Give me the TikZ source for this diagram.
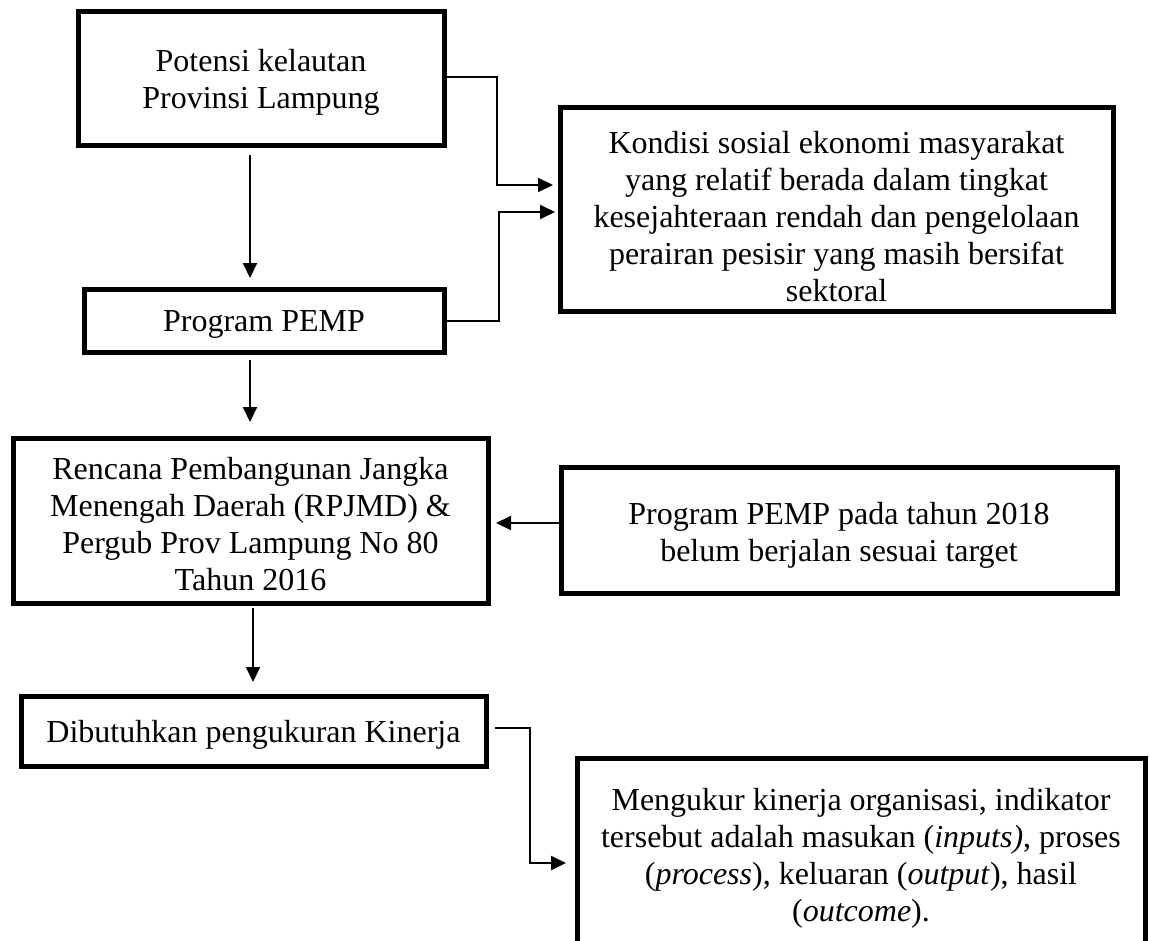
\documentclass[tikz,border=0pt]{standalone}
\usepackage{fontspec}
\setmainfont{Liberation Serif}
\usetikzlibrary{arrows.meta}
\newcommand\hstr[1]{\rule{0pt}{#1}}
\newcommand\dstr{\rule[-8pt]{0pt}{0pt}}
\tikzset{
  box/.style={draw=black, line width=5pt, fill=white, align=center, outer sep=0pt, inner sep=0pt,
    font=\fontsize{32}{37}\selectfont},
  arr/.style={draw=black, line width=2pt, -{Triangle[length=15pt,width=14pt]}},
}
\begin{document}
\begin{tikzpicture}[x=1pt,y=-1pt]
\useasboundingbox (0,0) rectangle (1150,941);
\clip (0,0) rectangle (1150,941);
\fill[white] (0,0) rectangle (1150,941);

\node[box, minimum width=366pt, minimum height=134pt] (b1) at (261,79)
  {\hstr{31pt}Potensi kelautan\\Provinsi Lampung\dstr};
\node[box, minimum width=360pt, minimum height=63pt] (b2) at (264,320.5)
  {\hstr{30.5pt}Program PEMP\dstr};
\node[box, minimum width=553pt, minimum height=203pt] (b3) at (836.5,209.5)
  {\hstr{44pt}Kondisi sosial ekonomi masyarakat\\yang relatif berada dalam tingkat\\kesejahteraan rendah dan pengelolaan\\perairan pesisir yang masih bersifat\\sektoral\dstr};
\node[box, minimum width=475pt, minimum height=165pt] (b4) at (250.5,520.5)
  {\hstr{37.5pt}Rencana Pembangunan Jangka\\Menengah Daerah (RPJMD) \&\\Pergub Prov Lampung No 80\\Tahun 2016\dstr};
\node[box, minimum width=556pt, minimum height=126pt] (b5) at (839,530)
  {\hstr{34pt}Program PEMP pada tahun 2018\\belum berjalan sesuai target\dstr};
\node[box, minimum width=465pt, minimum height=70pt] (b6) at (253.5,731)
  {\hstr{31pt}Dibutuhkan pengukuran Kinerja\dstr};
\node[box, minimum width=568pt, minimum height=197pt] (b7) at (861,856.5)
  {\hstr{26.5pt}Mengukur kinerja organisasi, indikator\\tersebut adalah masukan (\textit{inputs)}, proses\\(\textit{process}), keluaran (\textit{output}), hasil\\(\textit{outcome}).\dstr};

\coordinate (c1) at (250,0);
\coordinate (c2) at (253,0);

\draw[arr, shorten <=9pt, shorten >=11pt] (c1 |- b1.south) -- (c1 |- b2.north);
\draw[arr, shorten <=8pt, shorten >=16pt] (c1 |- b2.south) -- (c1 |- b4.north);
\draw[arr, shorten <=5pt, shorten >=14pt] (c2 |- b4.south) -- (c2 |- b6.north);

\draw[arr, shorten >=7pt] ([yshift=2pt]b1.east) -- ++(53,0) |- ([yshift=24.5pt]b3.west);
\draw[arr, shorten >=5pt] (b2.east) -- ++(55,0) |- ([yshift=-2.5pt]b3.west);
\draw[arr, shorten >=8pt] ([yshift=7pt]b5.west) -- ([yshift=7pt]b5.west -| b4.east);
\draw[arr, shorten <=9pt, shorten >=11pt] ([yshift=3pt]b6.east) -- ++(44,0) |- ([yshift=-6.5pt]b7.west);
\end{tikzpicture}
\end{document}
